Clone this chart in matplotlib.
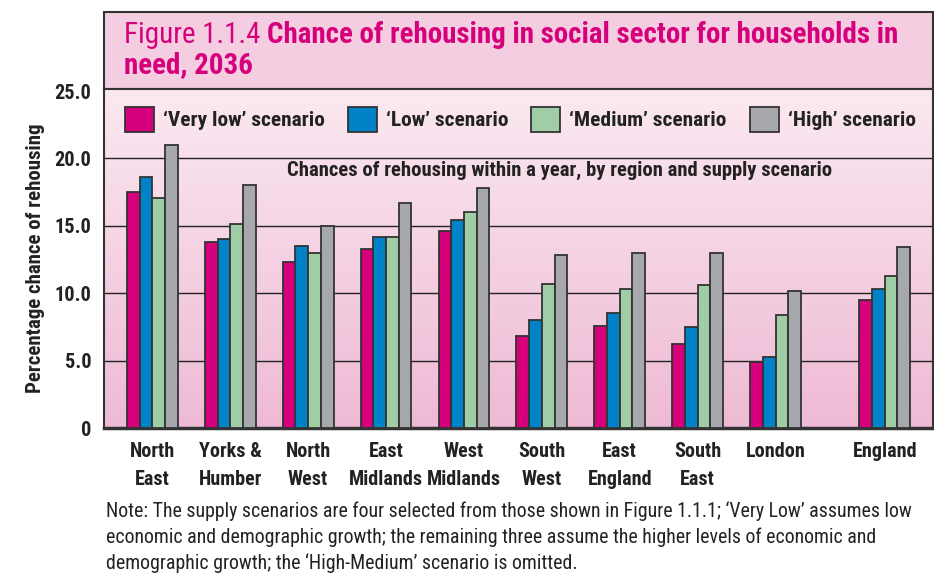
import numpy as np
import matplotlib
matplotlib.use("Agg")
import matplotlib.pyplot as plt
from matplotlib.patches import Rectangle, Patch
from matplotlib.colors import LinearSegmentedColormap

plt.rcParams["font.family"] = ["Roboto Condensed", "Liberation Sans Narrow", "DejaVu Sans"]

regions = ["North\nEast", "Yorks &\nHumber", "North\nWest", "East\nMidlands",
           "West\nMidlands", "South\nWest", "East\nEngland", "South\nEast",
           "London", "England"]
scenarios = ["\u2018Very low\u2019 scenario", "\u2018Low\u2019 scenario",
             "\u2018Medium\u2019 scenario", "\u2018High\u2019 scenario"]
very_low = [17.5, 13.8, 12.3, 13.3, 14.6, 6.8, 7.6, 6.2, 4.9, 9.5]
low = [18.6, 14.0, 13.5, 14.2, 15.4, 8.0, 8.5, 7.5, 5.3, 10.3]
medium = [17.1, 15.1, 13.0, 14.2, 16.0, 10.7, 10.3, 10.6, 8.4, 11.3]
high = [21.0, 18.0, 15.0, 16.7, 17.8, 12.8, 13.0, 13.0, 10.2, 13.4]
yticks = [0, 5, 10, 15, 20, 25]
ytick_labels = ["0", "5.0", "10.0", "15.0", "20.0", "25.0"]

colors = ["#d6007d", "#0082c9", "#9fcda6", "#a7a8ab"]
magenta = "#d6007d"
edge = "#333333"
dark = "#222222"

W, H = 934, 575
fig = plt.figure(figsize=(W / 100, H / 100), dpi=100)

# main plot area: x 104..933, y 89..428 (pixels from top)
ax = fig.add_axes([104 / W, (H - 428) / H, (933 - 104) / W, (428 - 89) / H])

x = np.arange(len(regions), dtype=float)
x[-1] += 0.4  # England set apart
width = 0.163
ymax = 25.15
xmin, xmax = -0.62, x[-1] + 0.62

# pink gradient background
grad = np.linspace(0, 1, 256).reshape(-1, 1)
cmap = LinearSegmentedColormap.from_list("pk", ["#eebad4", "#fbe9f1"])
ax.imshow(grad, extent=[xmin, xmax, 0, ymax], origin="lower", aspect="auto",
          cmap=cmap, zorder=0)

for v in yticks[1:-1]:
    ax.axhline(v, color=dark, lw=1.0, zorder=1)

series = [very_low, low, medium, high]
for i, (vals, c) in enumerate(zip(series, colors)):
    ax.bar(x + (i - 1.5) * width, vals, width, color=c, edgecolor=edge,
           linewidth=1.3, zorder=3)

ax.set_xlim(xmin, xmax)
ax.set_ylim(0, ymax)
ax.set_yticks(yticks)
ax.set_yticklabels(ytick_labels, fontsize=14.6, fontweight="bold", color=dark)
ax.set_xticks(x)
ax.set_xticklabels(regions, fontsize=14.5, fontweight="bold", color=dark,
                   linespacing=1.58)
ax.tick_params(length=0)
ax.tick_params(axis="x", pad=10)
ax.tick_params(axis="y", pad=9)
for s in ax.spines.values():
    s.set_color(edge)
    s.set_linewidth(1.5)
ax.spines["bottom"].set_linewidth(2.5)
ax.set_ylabel("Percentage chance of rehousing", fontsize=15, fontweight="bold",
              color=dark)
ax.yaxis.set_label_coords(-0.071, 0.5)

handles = [Patch(facecolor=c, edgecolor=edge, linewidth=1.3) for c in colors]
leg = ax.legend(handles, scenarios, ncol=4, loc="upper left",
                bbox_to_anchor=(0.0253, 0.947), frameon=False, borderpad=0,
                borderaxespad=0,
                prop={"size": 15.4, "weight": "bold"}, handlelength=1.36,
                handleheight=1.4, handletextpad=0.42, columnspacing=1.07)
for t in leg.get_texts():
    t.set_color(dark)

ax.text(0.55, 0.761, "Chances of rehousing within a year, by region and supply scenario",
        transform=ax.transAxes, ha="center", va="center", fontsize=14.9,
        fontweight="bold", color=dark)

# title box
tb = Rectangle((104 / W, (H - 89) / H), (933 - 104) / W, (89 - 12) / H,
               transform=fig.transFigure, facecolor="#f4cee0", edgecolor=edge,
               linewidth=1.5, zorder=-1)
fig.patches.append(tb)
t1 = fig.text(124 / W, (H - 35) / H, "Figure 1.1.4 ", fontsize=20.9, color=magenta,
              va="center", ha="left")
fig.add_artist(matplotlib.text.Annotation(
    "Chance of rehousing in social sector for households in",
    xy=(1, 0), xycoords=t1, va="bottom", ha="left", fontsize=20.9,
    fontweight="bold", color=magenta))
fig.text(124 / W, (H - 65) / H, "need, 2036", fontsize=20.9, color=magenta,
         fontweight="bold", va="center", ha="left")

note = ("Note: The supply scenarios are four selected from those shown in Figure 1.1.1; "
        "\u2018Very Low\u2019 assumes low\neconomic and demographic growth; the remaining three "
        "assume the higher levels of economic and\ndemographic growth; the "
        "\u2018High-Medium\u2019 scenario is omitted.")
fig.text(106 / W, (H - 501) / H, note, fontsize=14.3, color=dark, va="top",
         ha="left", linespacing=1.42)

fig.savefig("out.png", dpi=100)
